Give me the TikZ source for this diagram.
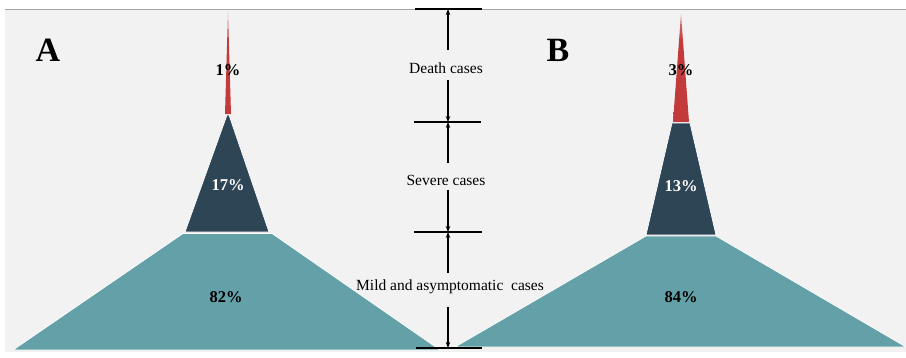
\documentclass[tikz,border=0pt]{standalone}
\usepackage{fontspec}
\setmainfont{Liberation Serif}
\usetikzlibrary{arrows.meta}
\definecolor{panel}{HTML}{F2F2F2}
\definecolor{edge}{HTML}{A6A6A6}
\definecolor{redc}{HTML}{C23A3A}
\definecolor{darkc}{HTML}{2E4555}
\definecolor{tealc}{HTML}{64A0A8}
\pgfdeclareverticalshading{redspike}{100bp}{color(0bp)=(redc); color(62bp)=(redc); color(100bp)=(white)}
\tikzset{
  seg/.style={draw=white, line width=0.7pt},
  dim/.style={line width=1.1pt, black},
  arr/.style={line width=1.1pt, -{Stealth[length=6pt,width=4.5pt]}},
  lab/.style={font=\fontsize{15.5}{17}\selectfont, inner sep=1pt},
  pct/.style={font=\fontsize{16.5}{18}\selectfont\bfseries, inner sep=0pt},
  big/.style={font=\fontsize{34}{36}\selectfont\bfseries, inner sep=0pt}
}
\begin{document}
\begin{tikzpicture}[x=1pt,y=-1pt]
\useasboundingbox (0,0) rectangle (906,357);
\fill[white] (0,0) rectangle (906,357);
\fill[panel] (5,9) rectangle (906,352);
\draw[edge, line width=1pt] (5,9) -- (906,9);

% Panel A
\shade[shading=redspike] (228,12) -- (231,114) -- (225,114) -- cycle;
\fill[darkc, seg] (227,115) -- (229,115) -- (269,232) -- (185,232) -- cycle;
\fill[tealc, seg] (183,233.5) -- (272,233.5) -- (440,350) -- (13,350) -- cycle;

% Panel B
\shade[shading=redspike] (681,14) -- (689,122) -- (673,122) -- cycle;
\fill[darkc, seg] (672,123) -- (690,123) -- (716,235) -- (646,235) -- cycle;
\fill[tealc, seg] (646,236) -- (716,236) -- (906,347) -- (455,347) -- cycle;

% labels
\node[big] (A) at (48,50) {A};
\node[big] (B) at (558,50) {B};
\node[pct] (pa1) at (228,70) {1\%};
\node[pct, white] (pa2) at (228,185) {17\%};
\node[pct] (pa3) at (226,297) {82\%};
\node[pct] (pb1) at (681,70) {3\%};
\node[pct, white] (pb2) at (681,186) {13\%};
\node[pct] (pb3) at (681,297) {84\%};

% dimension lines
\draw[dim] (415,9) -- (482,9);
\draw[dim] (414,122) -- (481,122);
\draw[dim] (414,232) -- (482,232);
\draw[dim] (416,348) -- (482,348);
\coordinate (t0) at (448,9);
\coordinate (t1) at (448,122);
\coordinate (t2) at (448,232);
\coordinate (t3) at (448,348);

\node[lab] (d) at (446,68) {Death cases};
\node[lab] (s) at (446,180) {Severe cases};
\node[lab] (m) at (450,287) {Mild and asymptomatic\ \ cases};

\draw[arr] (448,50) -- (t0);
\draw[arr] (448,80) -- (t1);
\draw[arr] (448,163) -- (t1);
\draw[arr] (448,190) -- (t2);
\draw[arr] (448,273) -- (t2);
\draw[arr] (448,307) -- (t3);
\end{tikzpicture}
\end{document}
